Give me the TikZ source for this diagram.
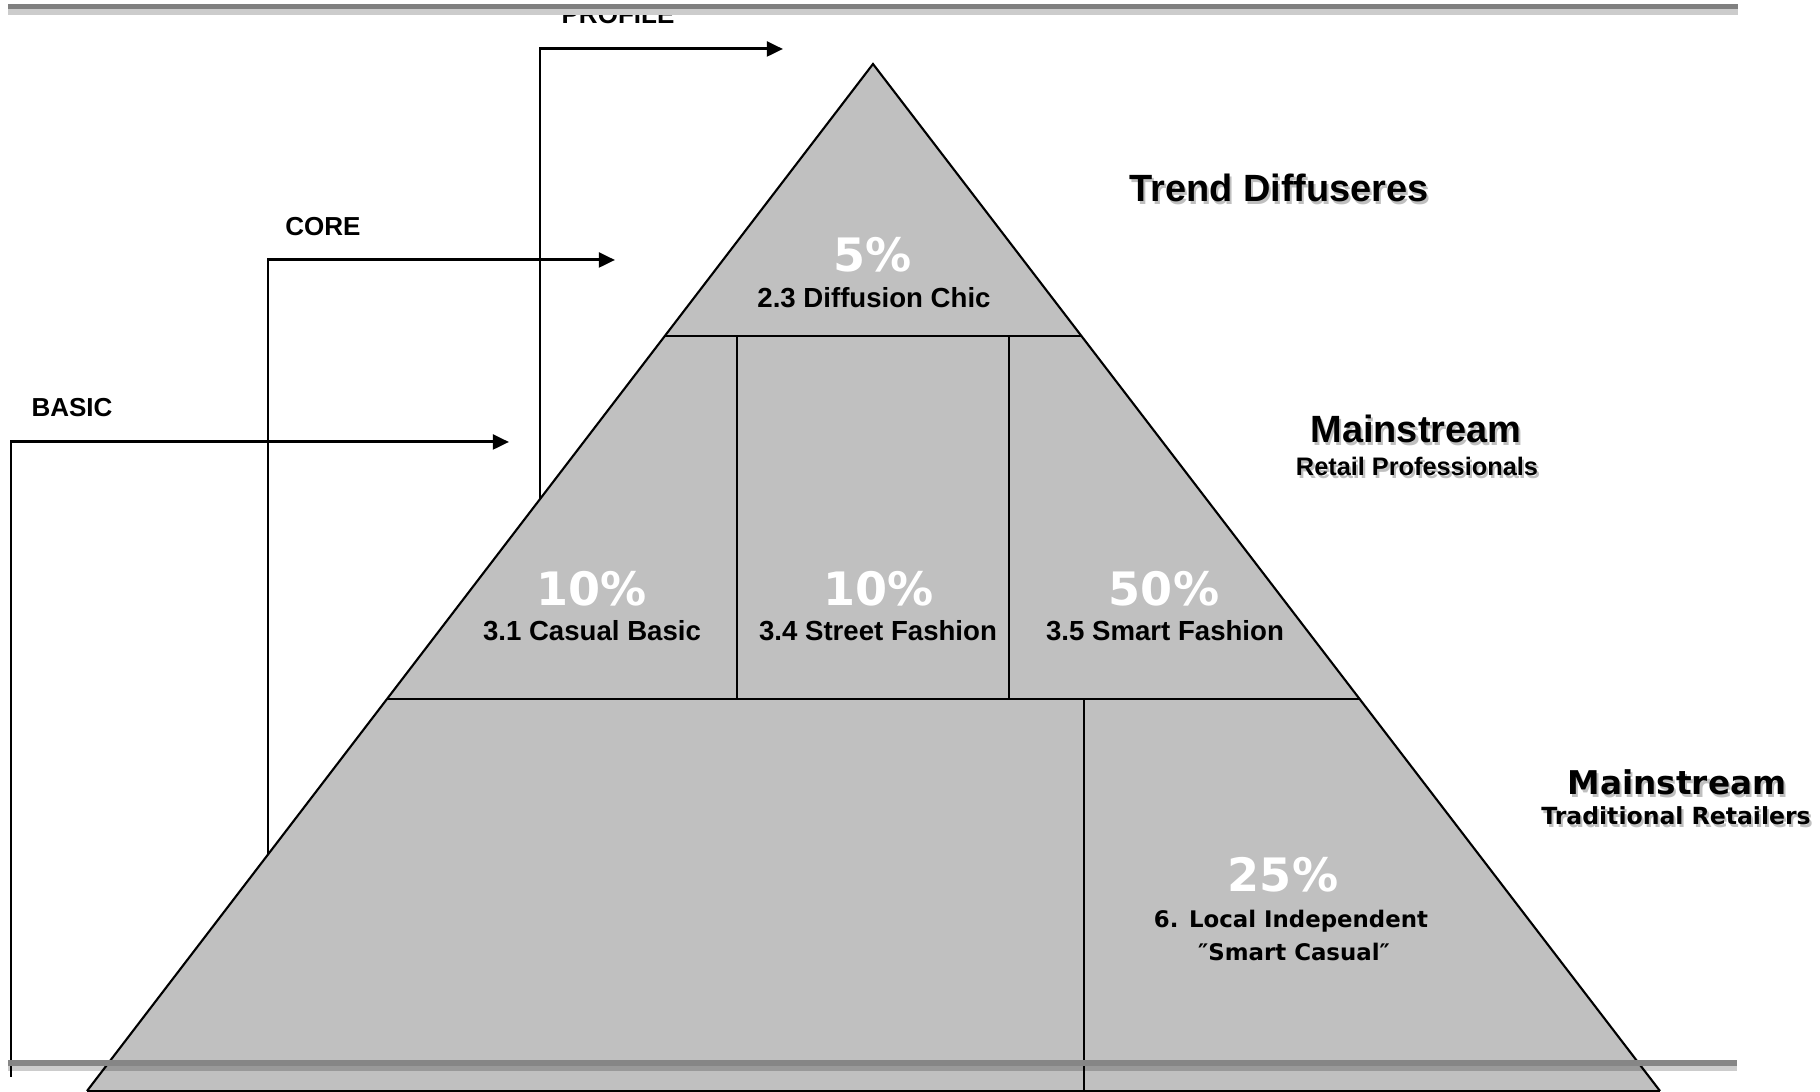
\documentclass[tikz,border=0pt]{standalone}
\usepackage{fontspec}
\setmainfont{Liberation Sans}
\newfontfamily\verd{DejaVu Sans}
\usetikzlibrary{positioning,arrows.meta,calc}
\definecolor{tiergray}{RGB}{192,192,192}
\definecolor{bardark}{RGB}{134,134,134}
\newcommand{\shadetext}[1]{\leavevmode\rlap{\kern0.6pt\raisebox{-0.6pt}{\color{black!25}#1}}#1}

\begin{document}
\begin{tikzpicture}[x=0.01cm,y=-0.01cm,
  flow/.style={line width=0.85pt,-{Triangle[length=4.6pt,width=4.2pt]}},
  tag/.style={font=\bfseries\fontsize{7.4}{9}\selectfont,anchor=base,inner sep=0pt},
  pct/.style={text=white,font=\verd\bfseries\fontsize{13.1}{15}\selectfont,anchor=base,inner sep=0pt},
  seg/.style={font=\bfseries\fontsize{7.85}{9}\selectfont,anchor=base,inner sep=0pt},
  head/.style={font=\bfseries\fontsize{10.8}{12}\selectfont,anchor=base,inner sep=0pt},
  sub/.style={font=\bfseries\fontsize{7.2}{9}\selectfont,anchor=base,inner sep=0pt}]
\useasboundingbox (0,0) rectangle (1820,1092);

% --- assortment arrows (drawn first, the pyramid hides their feet) ---
\coordinate (basicfoot) at (11,1077);
\coordinate (basictip) at (509,442);
\coordinate (corefoot) at (268,870);
\coordinate (coretip) at (615,260);
\coordinate (profilefoot) at (540,520);
\coordinate (profiletip) at (783,49);
\draw[flow] (basicfoot) |- (basictip);
\draw[flow] (corefoot) |- (coretip);
\draw[flow] (profilefoot) |- (profiletip);
\node[tag] (basic) at (72,417) {BASIC};
\node[tag] (core) at (323,236) {CORE};
\node[tag] (profile) at (618,24) {PROFILE};

% --- pyramid ---
\coordinate (apex) at (873,64);
\coordinate (bl) at (87,1091);
\coordinate (br) at (1660,1091);
\fill[tiergray] (apex) -- (bl) -- (br) -- cycle;
\coordinate (t1l) at ($(apex)!0.2648!(bl)$);
\coordinate (t1r) at ($(apex)!0.2648!(br)$);
\coordinate (t2l) at ($(apex)!0.6183!(bl)$);
\coordinate (t2r) at ($(apex)!0.6183!(br)$);
\begin{scope}[line width=0.6pt]
\draw (bl) -- (apex) -- (br);
\draw (bl) -- (br);
\draw (t1l) -- (t1r);
\draw (t2l) -- (t2r);
\draw (737,336) -- (737,699);
\draw (1009,336) -- (1009,699);
\draw (1084,699) -- (1084,1091);
\end{scope}

% segment shares
\node[pct] (p23) at (873,272) {5\%};
\node[seg] (s23) at (874,308) {2.3 Diffusion Chic};
\node[pct] (p31) at (592,606) {10\%};
\node[seg] (s31) at (592,641) {3.1 Casual Basic};
\node[pct] (p34) at (879,606) {10\%};
\node[seg] (s34) at (878,641) {3.4 Street Fashion};
\node[pct] (p35) at (1164,606) {50\%};
\node[seg] (s35) at (1165,641) {3.5 Smart Fashion};
\node[pct] (p6) at (1283,892) {25\%};
\node[seg,font=\verd\bfseries\fontsize{6.5}{8}\selectfont] (s6) at (1291,928) {6. Local Independent};
\node[seg,font=\verd\bfseries\fontsize{6.5}{8}\selectfont] (s6b) at (1294,961) {″Smart Casual″};

% --- tier headings ---
\node[head] (trend) at (1279,202) {\shadetext{Trend Diffuseres}};
\node[head] (main1) at (1416,443) {\shadetext{Mainstream}};
\node[sub] (retail) at (1417,476) {\shadetext{Retail Professionals}};
\node[head,font=\verd\bfseries\fontsize{9.3}{11}\selectfont] (main2) at (1677,795) {\shadetext{Mainstream}};
\node[sub,font=\verd\bfseries\fontsize{6.7}{8}\selectfont] (trad) at (1676,825) {\shadetext{Traditional Retailers}};

% --- page rules ---
\fill[black!50] (8,4) rectangle (1738,9);
\fill[black!20] (8,9) rectangle (1738,15);
\fill[bardark] (8,1060) rectangle (1737,1066);
\fill[black,opacity=0.2] (8,1066) rectangle (1737,1071);
\end{tikzpicture}
\end{document}
